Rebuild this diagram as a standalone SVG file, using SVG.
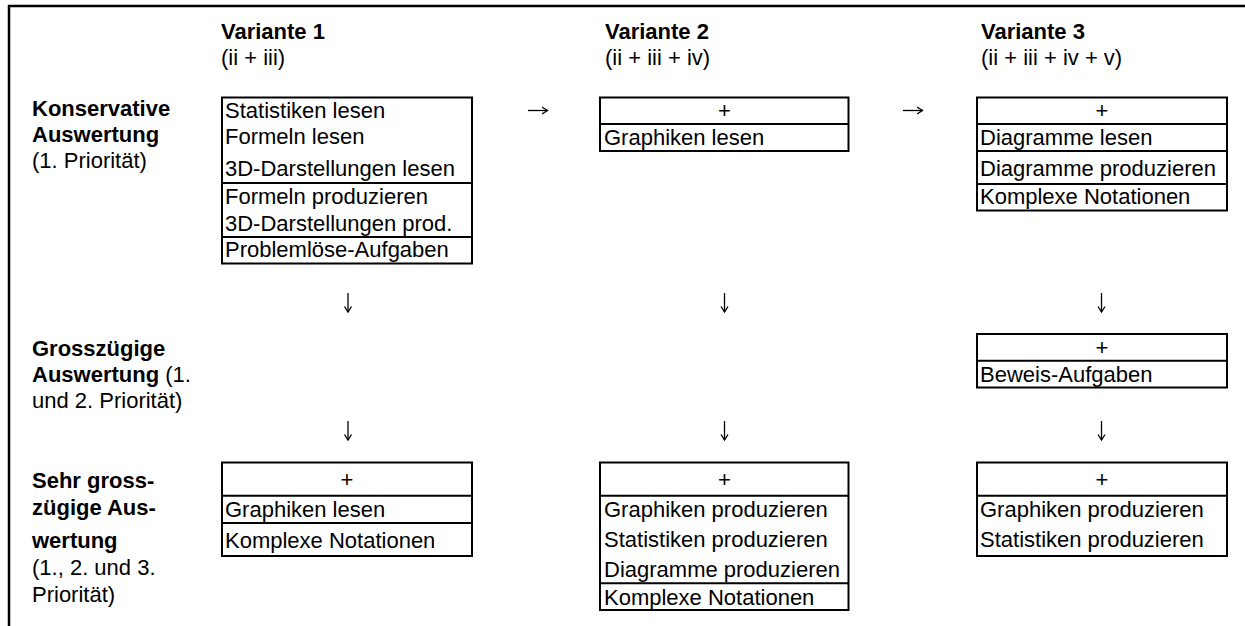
<svg xmlns="http://www.w3.org/2000/svg" width="1245" height="626" viewBox="0 0 1245 626">
<style>
text{font-family:"Liberation Sans",Arial,sans-serif;font-size:22px;fill:#000}
.b{font-weight:bold}
.c{text-anchor:middle}
.box{fill:#fff;stroke:#000;stroke-width:2}
.div{stroke:#000;stroke-width:2}
.frame{stroke:#000;stroke-width:2.5;fill:none}
.conn{stroke:#000;stroke-width:1.3;fill:none;marker-end:url(#head)}
</style>
<defs>
<marker id="head" markerUnits="userSpaceOnUse" markerWidth="8" markerHeight="10" refX="6" refY="4" orient="auto" viewBox="0 0 8 8">
<path d="M0.5,0.5 L6,4 L0.5,7.5" fill="none" stroke="#000" stroke-width="1.3"/>
</marker>
</defs>
<rect width="1245" height="626" fill="#fff"/>
<g id="frame">
<path class="frame" d="M9,626 V6 H1245"/>
</g>
<g id="headers">
<text class="b" x="221" y="39">Variante 1</text>
<text x="221" y="65">(ii + iii)</text>
<text class="b" x="605" y="39">Variante 2</text>
<text x="605" y="65">(ii + iii + iv)</text>
<text class="b" x="981" y="39">Variante 3</text>
<text x="981" y="65">(ii + iii + iv + v)</text>
</g>
<g id="row-labels">
<text x="32" y="116" class="b">Konservative</text>
<text x="32" y="142" class="b">Auswertung</text>
<text x="32" y="168">(1. Priorität)</text>
<text x="32" y="356" class="b">Grosszügige</text>
<text x="32" y="382"><tspan class="b">Auswertung</tspan> (1.</text>
<text x="32" y="408">und 2. Priorität)</text>
<text x="32" y="488" class="b">Sehr gross-</text>
<text x="32" y="515" class="b">zügige Aus-</text>
<text x="32" y="548" class="b">wertung</text>
<text x="32" y="575">(1., 2. und 3.</text>
<text x="32" y="602">Priorität)</text>
</g>
<g id="v1-konservativ">
<rect class="box" x="222" y="97.5" width="250" height="166"/>
<line class="div" x1="222" y1="183" x2="472" y2="183"/>
<line class="div" x1="222" y1="237" x2="472" y2="237"/>
<text x="225" y="118">Statistiken lesen</text>
<text x="225" y="144">Formeln lesen</text>
<text x="225" y="175.5">3D-Darstellungen lesen</text>
<text x="225" y="204">Formeln produzieren</text>
<text x="225" y="231">3D-Darstellungen prod.</text>
<text x="225" y="257">Problemlöse-Aufgaben</text>
</g>
<g id="v2-konservativ">
<rect class="box" x="600" y="97.5" width="248.5" height="53.5"/>
<line class="div" x1="600" y1="124" x2="848.5" y2="124"/>
<text class="c" x="724.5" y="118">+</text>
<text x="604" y="145">Graphiken lesen</text>
</g>
<g id="v3-konservativ">
<rect class="box" x="977" y="97.5" width="250" height="113"/>
<line class="div" x1="977" y1="124" x2="1227" y2="124"/>
<line class="div" x1="977" y1="151" x2="1227" y2="151"/>
<line class="div" x1="977" y1="184" x2="1227" y2="184"/>
<text class="c" x="1102" y="118">+</text>
<text x="980" y="145">Diagramme lesen</text>
<text x="980" y="175.5">Diagramme produzieren</text>
<text x="980" y="204">Komplexe Notationen</text>
</g>
<g id="v3-grosszuegig">
<rect class="box" x="977" y="334" width="250" height="53.5"/>
<line class="div" x1="977" y1="360.7" x2="1227" y2="360.7"/>
<text class="c" x="1102" y="355">+</text>
<text x="980" y="382">Beweis-Aufgaben</text>
</g>
<g id="v1-sehr-grosszuegig">
<rect class="box" x="222" y="462.5" width="250" height="93.5"/>
<line class="div" x1="222" y1="495.7" x2="472" y2="495.7"/>
<line class="div" x1="222" y1="523" x2="472" y2="523"/>
<text class="c" x="347" y="486.5">+</text>
<text x="225" y="517">Graphiken lesen</text>
<text x="225" y="547.5">Komplexe Notationen</text>
</g>
<g id="v2-sehr-grosszuegig">
<rect class="box" x="600" y="462.5" width="248.5" height="147.5"/>
<line class="div" x1="600" y1="495.7" x2="848.5" y2="495.7"/>
<line class="div" x1="600" y1="583.3" x2="848.5" y2="583.3"/>
<text class="c" x="724.5" y="486.5">+</text>
<text x="604" y="517">Graphiken produzieren</text>
<text x="604" y="547">Statistiken produzieren</text>
<text x="604" y="577">Diagramme produzieren</text>
<text x="604" y="604.5">Komplexe Notationen</text>
</g>
<g id="v3-sehr-grosszuegig">
<rect class="box" x="977" y="462.5" width="250" height="93.5"/>
<line class="div" x1="977" y1="495.7" x2="1227" y2="495.7"/>
<text class="c" x="1102" y="486.5">+</text>
<text x="980" y="517">Graphiken produzieren</text>
<text x="980" y="547">Statistiken produzieren</text>
</g>
<g id="connectors">
<path class="conn" d="M528,110.5 H547.5"/>
<path class="conn" d="M903,110.5 H922.5"/>
<path class="conn" d="M348,293 V312"/>
<path class="conn" d="M724.5,293 V312"/>
<path class="conn" d="M1101.5,293 V312"/>
<path class="conn" d="M348,421 V440"/>
<path class="conn" d="M724.5,421 V440"/>
<path class="conn" d="M1101.5,421 V440"/>
</g>
</svg>
